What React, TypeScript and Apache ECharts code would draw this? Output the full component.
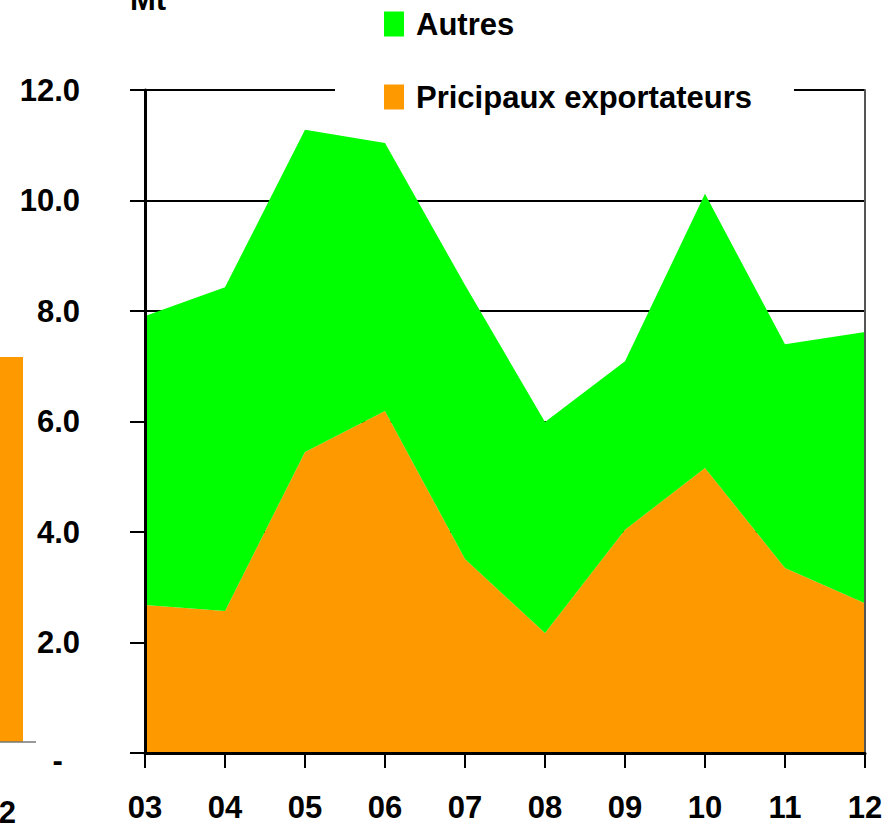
import React, { useEffect, useRef } from "react";
import * as echarts from "echarts";

const categories = ["03", "04", "05", "06", "07", "08", "09", "10", "11", "12"];
const principaux = [2.68, 2.57, 5.45, 6.19, 3.51, 2.17, 4.04, 5.16, 3.35, 2.71];
const autres = [5.23, 5.86, 5.83, 4.85, 4.96, 3.82, 3.05, 4.96, 4.05, 4.91];
const yTicks = { min: 0, max: 12, interval: 2 };

const FONT = "'Liberation Sans', Arial, sans-serif";
const FS = 31;

export default function App() {
  const ref = useRef<HTMLDivElement>(null);
  useEffect(() => {
    if (!ref.current) return;
    const chart = echarts.init(ref.current, undefined, { renderer: "svg" });
    chart.setOption({
      animation: false,
      backgroundColor: "#ffffff",
      textStyle: { fontFamily: FONT },
      grid: { left: 145, right: 26, top: 90, bottom: 72 },
      legend: {
        orient: "vertical",
        left: 335,
        top: 0,
        padding: [4, 42, 8, 49],
        backgroundColor: "#ffffff",
        itemWidth: 20,
        itemHeight: 25,
        itemGap: 33,
        icon: "rect",
        data: ["Autres", "Pricipaux exportateurs"],
        textStyle: {
          fontFamily: FONT,
          fontSize: FS,
          fontWeight: "bold",
          color: "#000",
          lineHeight: 40,
          padding: [0, 0, 0, 7],
        },
        z: 20,
      },
      xAxis: {
        type: "category",
        boundaryGap: false,
        data: categories,
        z: 10,
        axisLine: { show: true, lineStyle: { color: "#000", width: 3 } },
        axisTick: { show: true, length: 15, lineStyle: { color: "#000", width: 2 } },
        axisLabel: {
          margin: 39,
          fontFamily: FONT,
          fontSize: FS,
          fontWeight: "bold",
          color: "#000",
        },
        splitLine: { show: false },
      },
      yAxis: [
        {
          type: "value",
          min: yTicks.min,
          max: yTicks.max,
          interval: yTicks.interval,
          position: "left",
          axisLine: { show: false },
          axisTick: { show: true, length: 15, lineStyle: { color: "#000", width: 2 } },
          splitLine: { show: true, lineStyle: { color: "#000", width: 2 } },
          axisLabel: {
            margin: 65,
            fontFamily: FONT,
            fontSize: FS,
            fontWeight: "bold",
            color: "#000",
            formatter: (v: number) => (v === 0 ? "{z|-\u00a0\u00a0}" : v.toFixed(1)),
            rich: {
              z: {
                fontFamily: FONT,
                fontSize: FS,
                fontWeight: "bold",
                color: "#000",
                padding: [14, 0, 0, 0],
              },
            },
          },
        },
        {
          type: "value",
          min: yTicks.min,
          max: yTicks.max,
          interval: yTicks.interval,
          position: "left",
          z: 10,
          axisLine: { show: true, lineStyle: { color: "#000", width: 3 } },
          axisTick: { show: false },
          axisLabel: { show: false },
          splitLine: { show: false },
        },
        {
          type: "value",
          min: yTicks.min,
          max: yTicks.max,
          interval: yTicks.interval,
          position: "right",
          z: 10,
          axisLine: { show: true, lineStyle: { color: "#555", width: 2 } },
          axisTick: { show: false },
          axisLabel: { show: false },
          splitLine: { show: false },
        },
      ],
      series: [
        {
          name: "Pricipaux exportateurs",
          type: "line",
          stack: "total",
          yAxisIndex: 0,
          data: principaux,
          symbol: "none",
          lineStyle: { width: 0 },
          itemStyle: { color: "#FF9900" },
          areaStyle: { color: "#FF9900", opacity: 1 },
        },
        {
          name: "Autres",
          type: "line",
          stack: "total",
          yAxisIndex: 0,
          data: autres,
          symbol: "none",
          lineStyle: { width: 0 },
          itemStyle: { color: "#00FF00" },
          areaStyle: { color: "#00FF00", opacity: 1 },
        },
      ],
      graphic: [
        { type: "rect", shape: { x: 0, y: 357, width: 23, height: 385 }, style: { fill: "#FF9900" } },
        { type: "line", shape: { x1: 0, y1: 742, x2: 36, y2: 742 }, style: { stroke: "#777", lineWidth: 1.5 } },
        {
          type: "text",
          x: 16,
          y: 797,
          style: { text: "2", fill: "#000", font: `bold ${FS}px ${FONT}`, textAlign: "right", textVerticalAlign: "top" },
        },
        {
          type: "text",
          x: 130,
          y: 15,
          style: { text: "Mt", fill: "#000", font: `bold ${FS}px ${FONT}`, textAlign: "left", textVerticalAlign: "bottom" },
        },
      ],
    });
    return () => chart.dispose();
  }, []);
  return (
    <div
      ref={ref}
      style={{ position: "absolute", left: 0, top: 0, width: 891, height: 825 }}
    />
  );
}
